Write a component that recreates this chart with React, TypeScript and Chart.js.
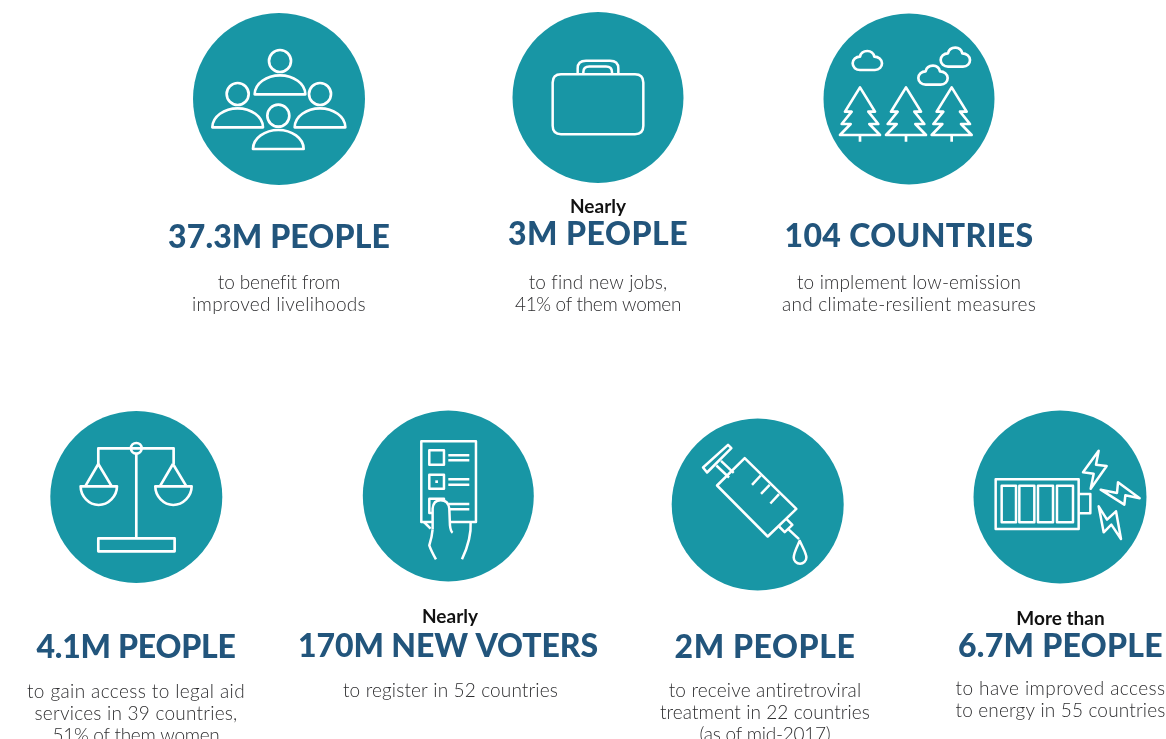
import React, { useEffect, useRef } from "react";
import { Chart, registerables } from "chart.js";

Chart.register(...registerables);

const TEAL = "#1896A5";
const NAVY = "#22557C";
const GREY = "#2E2E30";

const headlines = ["37.3M PEOPLE", "3M PEOPLE", "104 COUNTRIES", "4.1M PEOPLE", "170M NEW VOTERS", "2M PEOPLE", "6.7M PEOPLE"];
const headlineWidths = [222, 180, 249, 199, 300, 181, 205];
const leads = ["", "Nearly", "", "", "Nearly", "", "More than"];
const details = [
  ["to benefit from", "improved livelihoods"],
  ["to find new jobs,", "41% of them women"],
  ["to implement low-emission", "and climate-resilient measures"],
  ["to gain access to legal aid", "services in 39 countries,", "51% of them women"],
  ["to register in 52 countries"],
  ["to receive antiretroviral", "treatment in 22 countries", "(as of mid-2017)"],
  ["to have improved access", "to energy in 55 countries"],
];
const detailWidths = [
  [122, 174],
  [138, 166],
  [224, 254],
  [218, 203, 167],
  [215],
  [193, 210, 131],
  [210, 210],
];
const iconNames = ["people", "case", "trees", "scales", "ballot", "syringe", "battery"];

const circleX = [279, 598, 909, 136.3, 448.3, 757.7, 1060];
const circleY = [99, 97.5, 99, 497, 496, 504.5, 497];
const circleR = [86, 85.5, 85.5, 86, 85.5, 86, 86.5];
const textX = [279, 598, 909, 136, 448, 765, 1060.5];
const leadX = [0, 598, 0, 0, 450, 0, 1060.5];
const detailX = [279, 598, 909, 136, 450.5, 765, 1060.5];
const headlineY = [248, 245, 247, 658, 657, 658, 657];
const leadY = [0, 213, 0, 0, 623, 0, 625];
const detailY = [289, 289, 289, 698, 697, 697, 695];

const person = (x: number, y: number) =>
  `M${x + 33} ${y}A33 33 0 1 1 ${x - 33} ${y}A33 33 0 1 1 ${x + 33} ${y}Z` +
  `M${x - 76} ${y + 100}C${x - 76} ${y + 67} ${x - 40} ${y + 43} ${x} ${y + 43}C${x + 40} ${y + 43} ${x + 76} ${y + 67} ${x + 76} ${y + 100}Z`;
const tree = (x: number) =>
  `M${x} 262L${x + 45} 335H${x + 25}L${x + 55} 372H${x + 28}L${x + 60} 405H${x - 60}L${x - 28} 372H${x - 55}L${x - 25} 335H${x - 45}ZM${x} 405V425`;
const cloud = (x: number, y: number) =>
  `M${x + 22} ${y + 57}H${x + 67}C${x + 80} ${y + 57} ${x + 88} ${y + 47} ${x + 88} ${y + 37}C${x + 88} ${y + 25} ${x + 77} ${y + 17} ${x + 65} ${y + 17}C${x + 62} ${y + 5} ${x + 52} ${y} ${x + 44} ${y}C${x + 32} ${y} ${x + 24} ${y + 7} ${x + 22} ${y + 17}C${x + 10} ${y + 17} ${x} ${y + 25} ${x} ${y + 37}C${x} ${y + 49} ${x + 10} ${y + 57} ${x + 22} ${y + 57}Z`;
const pan = (x: number) =>
  `M${x} 178L${x - 38} 243M${x} 178L${x + 39} 243M${x - 53} 245H${x + 56}C${x + 56} 275 ${x + 30} 301 ${x + 1} 301C${x - 28} 301 ${x - 53} 275 ${x - 53} 245Z`;
const box = (a: number, b: number, c: number, d: number) => `M${a} ${b}H${c}V${d}H${a}Z`;

// icon artwork: SVG path strings at 3x scale, with the anchor that sits on the circle centre
const iconArt: Record<string, { anchor: [number, number]; width: number; paths: string[]; mask?: string; after?: string[]; dot?: string }> = {
  people: { anchor: [297, 297], width: 8, paths: [person(300, 183), person(173, 282), person(420, 282), person(295, 347)] },
  case: {
    anchor: [294, 292],
    width: 7.5,
    paths: [
      "M183 222H405Q430 222 430 247V377Q430 402 405 402H183Q158 402 158 377V247Q158 222 183 222Z",
      "M233 222V205Q233 182 258 182H330Q355 182 355 205V222",
      "M250 222V216Q250 199 268 199H318Q336 199 336 216V222",
    ],
  },
  trees: { anchor: [297, 297], width: 8, paths: [tree(150), tree(288), tree(425), cloud(128, 153), cloud(392, 143), cloud(325, 197)] },
  scales: {
    anchor: [289, 277],
    width: 8,
    paths: [
      "M305 131A16 16 0 1 1 273 131A16 16 0 1 1 305 131ZM273 131H305",
      "M175 178V131H273M305 131H401V178",
      "M289 147V400",
      box(175, 401, 404, 440),
      pan(175),
      pan(399),
    ],
  },
  ballot: {
    anchor: [295, 272],
    width: 7.5,
    paths: [
      box(214, 108, 378, 350),
      box(238, 135, 282, 178),
      box(238, 208, 282, 250),
      box(238, 280, 282, 323),
      "M295 150H358M295 165H358M295 222H358M295 238H358M295 296H358M295 312H358",
    ],
    mask: "M248 380V310Q250 285 272 285Q295 285 298 310L300 380Z",
    after: [
      "M248 372V310Q250 285 272 285Q295 285 298 310L300 360Q302 378 308 382",
      "M248 372Q246 395 238 420Q243 435 258 462",
      "M362 350Q365 400 336 462",
      "M222 350L242 370",
    ],
    dot: box(256, 225, 264, 233),
  },
  syringe: {
    anchor: [294, 299],
    width: 7.5,
    paths: [
      "M255 160L410 312L324 395L172 242Z",
      "M303 212L277 240M330 240L304 267M358 268L332 296",
      "M205 120L215 130L142 203L130 188Z",
      "M170 182L208 218M184 168L222 204",
      "M380 342L398 360L375 382L358 365",
      "M385 372L418 403",
      "M420 408C410 430 402 445 402 458A19 19 0 0 0 440 458C440 445 430 430 420 408Z",
    ],
  },
  battery: {
    anchor: [284, 277],
    width: 7.5,
    paths: [
      box(91, 224, 340, 373),
      box(109, 243, 152, 353),
      box(162, 243, 207, 353),
      box(218, 243, 263, 353),
      box(275, 243, 323, 353),
      "M342 268H375V326H342",
      "M400 138L353 203L385 207L376 252L424 184L392 180Z",
      "M406 255L477 300L480 272L523 281L458 233L455 265Z",
      "M400 305L415 383L438 360L467 403L452 320L425 345Z",
    ],
  },
};

function fitText(ctx: any, text: string, x: number, y: number, width: number) {
  ctx.letterSpacing = "0px";
  const spare = width - ctx.measureText(text).width;
  const spacing = spare / Math.max(1, text.length);
  ctx.letterSpacing = `${spacing}px`;
  ctx.fillText(text, x, y);
  ctx.letterSpacing = "0px";
}

const infographicPlugin = {
  id: "infographic",
  afterDatasetsDraw(chart: any) {
    const { ctx, scales } = chart;
    const points = chart.getDatasetMeta(0).data;
    ctx.save();
    points.forEach((pt: any, i: number) => {
      const art = iconArt[iconNames[i]];
      ctx.save();
      ctx.translate(pt.x - art.anchor[0] / 3, pt.y - art.anchor[1] / 3);
      ctx.scale(1 / 3, 1 / 3);
      ctx.strokeStyle = "#FFFFFF";
      ctx.fillStyle = "#FFFFFF";
      ctx.lineWidth = art.width;
      ctx.lineJoin = "round";
      art.paths.forEach((d) => ctx.stroke(new Path2D(d)));
      if (art.dot) ctx.fill(new Path2D(art.dot));
      if (art.mask) {
        ctx.fillStyle = TEAL;
        ctx.fill(new Path2D(art.mask));
      }
      (art.after || []).forEach((d) => ctx.stroke(new Path2D(d)));
      ctx.restore();

      ctx.textAlign = "center";
      ctx.textBaseline = "alphabetic";
      ctx.fillStyle = NAVY;
      ctx.font = "900 32px Lato";
      fitText(ctx, headlines[i], scales.x.getPixelForValue(textX[i]), scales.y.getPixelForValue(headlineY[i]), headlineWidths[i]);
      if (leads[i]) {
        ctx.fillStyle = "#111111";
        ctx.font = "700 19px Lato";
        ctx.fillText(leads[i], scales.x.getPixelForValue(leadX[i]), scales.y.getPixelForValue(leadY[i]));
      }
      ctx.fillStyle = GREY;
      ctx.font = "300 19px Lato";
      details[i].forEach((line, k) => {
        fitText(ctx, line, scales.x.getPixelForValue(detailX[i]), scales.y.getPixelForValue(detailY[i] + k * 22.2), detailWidths[i][k]);
      });
    });
    ctx.restore();
  },
};

export default function App() {
  const ref = useRef<HTMLCanvasElement | null>(null);
  useEffect(() => {
    if (!ref.current) return;
    const chart = new Chart(ref.current, {
      type: "scatter",
      data: {
        datasets: [
          {
            label: "Results",
            data: circleX.map((x, i) => ({ x, y: circleY[i] })),
            pointRadius: circleR,
            pointHoverRadius: circleR,
            backgroundColor: TEAL,
            borderWidth: 0,
            clip: false,
          },
        ],
      },
      options: {
        animation: false,
        responsive: false,
        layout: { padding: 0, autoPadding: false },
        plugins: { legend: { display: false }, tooltip: { enabled: false } },
        scales: {
          x: { type: "linear", min: 0, max: 1166, display: false },
          y: { type: "linear", min: 0, max: 739, reverse: true, display: false },
        },
      },
      plugins: [infographicPlugin],
    } as any);
    return () => chart.destroy();
  }, []);
  return (
    <canvas
      ref={ref}
      width={1166}
      height={739}
      style={{ position: "fixed", left: 0, top: 0, width: 1166, height: 739, display: "block" }}
    />
  );
}
